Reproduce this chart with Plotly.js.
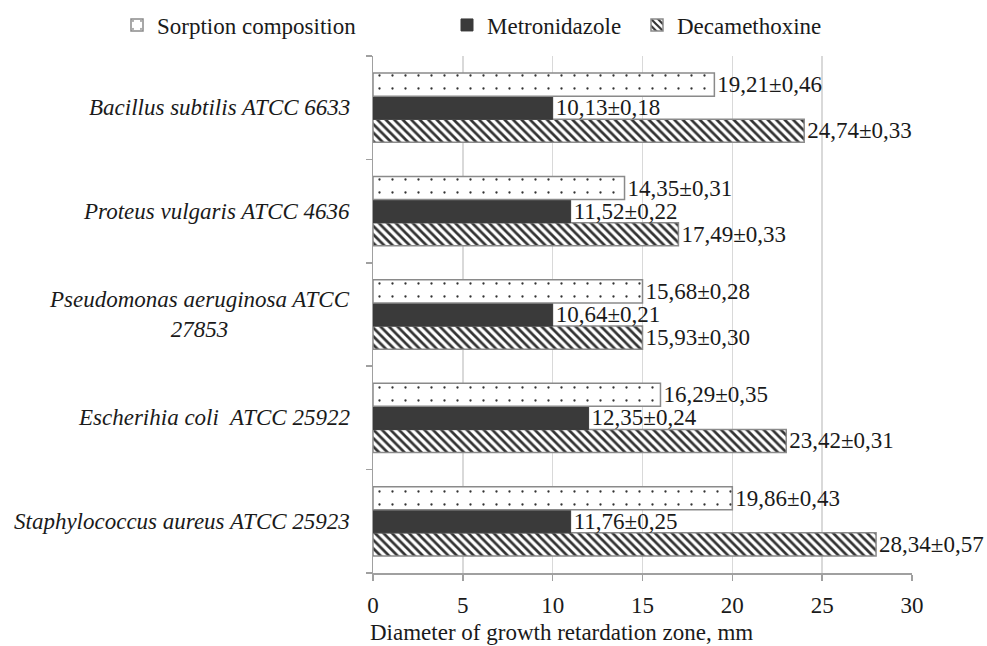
<!DOCTYPE html>
<html>
<head>
<meta charset="utf-8">
<script src="https://cdn.plot.ly/plotly-3.0.1.min.js"></script>
<style>html,body{margin:0;padding:0;background:#fff;}#chart{width:987px;height:646px;}</style>
</head>
<body>
<div id="chart"></div>
<script>
// Categories (bottom to top)
const categories = [
  "Staphylococcus aureus ATCC 25923",
  "Escherihia coli  ATCC 25922",
  "Pseudomonas aeruginosa ATCC<br>27853",
  "Proteus vulgaris ATCC 4636",
  "Bacillus subtilis ATCC 6633"
];
const catKeys = ["Staph", "Ecoli", "Pseudo", "Proteus", "Bacillus"];
const seriesNames = ["Sorption composition", "Metronidazole", "Decamethoxine"];

// Bar lengths as drawn in the picture (mm)
const sorptionValues = [20, 16, 15, 14, 19];
const metronidazoleValues = [11, 12, 10, 11, 10];
const decamethoxineValues = [28, 23, 15, 17, 24];

// Value labels printed next to bars
const sorptionLabels = ["19,86±0,43", "16,29±0,35", "15,68±0,28", "14,35±0,31", "19,21±0,46"];
const metronidazoleLabels = ["11,76±0,25", "12,35±0,24", "10,64±0,21", "11,52±0,22", "10,13±0,18"];
const decamethoxineLabels = ["28,34±0,57", "23,42±0,31", "15,93±0,30", "17,49±0,33", "24,74±0,33"];

const xTicks = [0, 5, 10, 15, 20, 25, 30];

const FONT = "Liberation Serif";
const FS = 23;
const textFont = {family: FONT, size: FS, color: "#1a1a1a"};

function barTrace(name, vals, labels, marker, legendId) {
  return {
    type: "bar", orientation: "h", name: name,
    x: vals, y: catKeys,
    text: labels, textposition: "outside", textfont: textFont,
    constraintext: "none", cliponaxis: false,
    marker: marker, legend: legendId, hoverinfo: "skip"
  };
}

const traces = [
  barTrace(seriesNames[2], decamethoxineValues, decamethoxineLabels,
    {color: "#ffffff", line: {color: "#8a8a8a", width: 1.5},
     pattern: {shape: "\\", fgcolor: "#333333", bgcolor: "#ffffff", size: 6, solidity: 0.45}}, "legend3"),
  barTrace(seriesNames[1], metronidazoleValues, metronidazoleLabels,
    {color: "#3a3a3a", line: {color: "#3a3a3a", width: 1}}, "legend2"),
  barTrace(seriesNames[0], sorptionValues, sorptionLabels,
    {color: "#ffffff", line: {color: "#8a8a8a", width: 1.5},
     pattern: {shape: ".", fgcolor: "#333333", bgcolor: "#ffffff", size: 13, solidity: 0.025}}, "legend")
];

const annotations = categories.map((c, i) => ({
  xref: "paper", yref: "y", x: 0, y: catKeys[i], xshift: -21,
  xanchor: "right", yanchor: "middle", align: "center",
  text: "<i>" + c.replace(/  /g, "&nbsp; ") + "</i>", showarrow: false,
  font: {family: FONT, size: FS, color: "#1a1a1a"}
}));
annotations.push({
  xref: "paper", yref: "paper", x: 0.3506, y: 0, yshift: -59,
  xanchor: "center", yanchor: "middle", showarrow: false,
  text: "Diameter of growth retardation zone, mm",
  font: {family: FONT, size: FS, color: "#1a1a1a"}
});

function legendAt(px) {
  return {
    orientation: "h", xref: "container", yref: "container",
    x: px / 987, y: 1 - 25 / 646, xanchor: "left", yanchor: "middle",
    font: {family: FONT, size: FS, color: "#1a1a1a"},
    bgcolor: "rgba(0,0,0,0)", itemclick: false
  };
}

const layout = {
  width: 987, height: 646,
  margin: {l: 373, r: 75, t: 56, b: 73},
  paper_bgcolor: "#ffffff", plot_bgcolor: "#ffffff",
  barmode: "group", bargap: 0.33, bargroupgap: 0,
  font: {family: FONT, size: FS, color: "#1a1a1a"},
  xaxis: {
    range: [0, 30], tickvals: xTicks, ticktext: xTicks.map(String),
    showgrid: true, gridcolor: "#d9d9d9", gridwidth: 1.5,
    showline: true, linecolor: "#a0a0a0", linewidth: 1.5,
    ticks: "outside", ticklen: 6, tickcolor: "#a0a0a0", tickwidth: 1.5,
    ticklabelstandoff: 5, zeroline: false,
    tickfont: {family: FONT, size: FS, color: "#1a1a1a"}
  },
  yaxis: {
    type: "category", categoryorder: "array", categoryarray: catKeys,
    showticklabels: false, showgrid: false, zeroline: false,
    showline: true, linecolor: "#a0a0a0", linewidth: 1.5,
    ticks: "outside", tickson: "boundaries", ticklen: 6, tickcolor: "#a0a0a0", tickwidth: 1.5
  },
  legend: legendAt(117),
  legend2: legendAt(447),
  legend3: legendAt(637),
  annotations: annotations,
  showlegend: true
};

Plotly.newPlot("chart", traces, layout, {staticPlot: true});
</script>
</body>
</html>
